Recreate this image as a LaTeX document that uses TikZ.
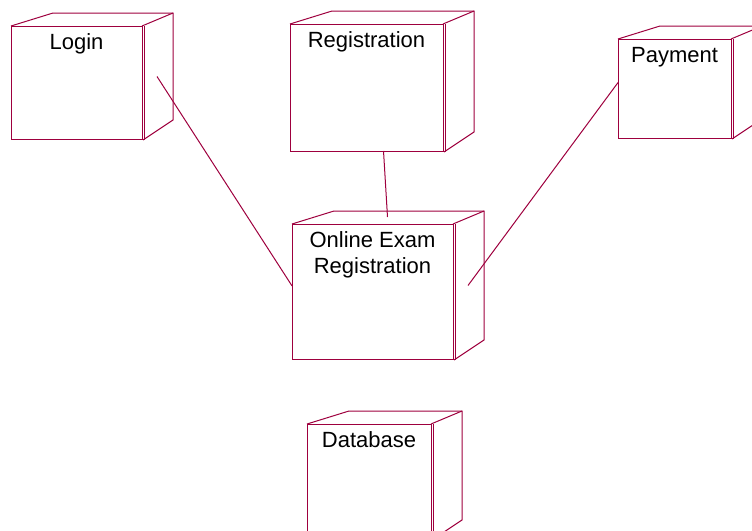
\documentclass[tikz,border=0pt]{standalone}
\usepackage{fontspec}
\setmainfont{Liberation Sans}
\usetikzlibrary{calc}
\definecolor{nodered}{RGB}{158,0,62}

\begin{document}
\begin{tikzpicture}[x=1pt, y=-1pt,
    device/.style={rectangle, draw=nodered, line width=1pt, fill=white,
        inner sep=0pt, outer sep=0pt, anchor=north west},
    devlabel/.style={anchor=north, yshift=-7pt, inner sep=0pt, align=center,
        text height=16pt, font=\fontsize{22}{26}\selectfont},
    devline/.style={draw=nodered, line width=1pt},
    link/.style={draw=nodered, line width=1pt}
]
\useasboundingbox (0,0) rectangle (752,530);
\clip (0,0) rectangle (752,530);

\node [device, minimum width=131pt, minimum height=113pt,
    label={[devlabel]north:Login}] (login) at (11,26) {};
\node [device, minimum width=153pt, minimum height=127pt,
    label={[devlabel]north:Registration}] (reg) at (290,24) {};
\node [device, minimum width=113pt, minimum height=99pt,
    label={[devlabel]north:Payment}] (pay) at (618,39) {};
\node [device, minimum width=161pt, minimum height=135pt,
    label={[devlabel, yshift=-26pt]north:{Online Exam\\Registration}}] (oer) at (292,224) {};
\node [device, minimum width=124pt, minimum height=115pt,
    label={[devlabel]north:Database}] (db) at (307,424) {};

\foreach \n in {login,reg,pay,oer,db}{
    \draw [devline] (\n.north west) -- ++(42,-13) -- ($(\n.north east)+(31,-13)$)
        -- ($(\n.south east)+(31,-19)$) -- ($(\n.south east)+(1,1)$);
    \draw [devline] (\n.north east) -- ++(31,-13);
    \draw [devline] ($(\n.north east)+(2,0)$) -- ($(\n.south east)+(2,1)$);
    \coordinate (\n-side) at ($(\n.east)+(15,-6)$);
    \coordinate (\n-top) at ($(\n.north)+(15,-7)$);
}

\draw [link] (login-side) -- (oer.176);
\draw [link] (reg.-75) -- (oer-top);
\draw [link] (pay.174) -- (oer-side);

\end{tikzpicture}
\end{document}
